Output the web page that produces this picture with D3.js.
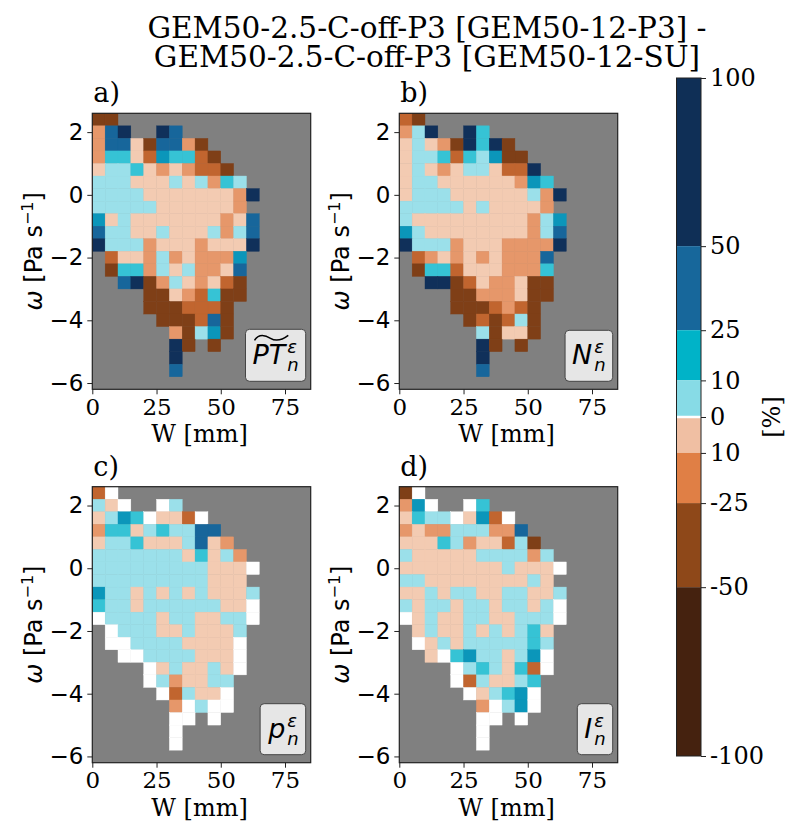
<!DOCTYPE html>
<html>
<head>
<meta charset="utf-8">
<script src="https://cdn.jsdelivr.net/npm/d3@7"></script>
<style>
  body { margin: 0; background: #fff; }
</style>
</head>
<body>
<script>
// ---- data ----
// each panel: 22 rows (omega from 2.6 down to -6.2, 0.4 bins), 17 columns (W 0..85, 5 mm bins)
// codes: N B T C c (positive side) w (zero) p o O D (negative side) . (no data)
const gridPT = [
  "DD...............",
  "oBN..NB..........",
  "oBBpDBBoD........",
  "oCCpOTCCOD.......",
  "pccCpopoOOD......",
  "cccpppcpcoCc.....",
  "ccccpppppppoN....",
  "cccccppppppo.....",
  "TpcpppppppopB....",
  "BccppcpppcocB....",
  "NcccopppopppN....",
  ".OppocopoooT.....",
  ".DCCocpcoopB.....",
  "..BNDocpopOD.....",
  "....DDpoOCDD.....",
  "....DDDOOOD......",
  ".....DDDOBD......",
  "......oDcTD......",
  "......ND.D.......",
  "......N..........",
  "......B..........",
  "................."
];
const gridN = [
  "OD...............",
  "ocN..NC..........",
  "pcpoDNCND........",
  "pccCOCcTDD.......",
  "pcpopccpOON......",
  "pccppppppoTC.....",
  "pcccppppppcoN....",
  "cccccpcppppo.....",
  "cpppppppppocT....",
  "TcppppppppocB....",
  "NcccopppooooN....",
  ".OopopopoooB.....",
  ".DCCOpppoooC.....",
  "..NNDOpoopDD.....",
  "....DDooopDD.....",
  "....DDDOoOD......",
  ".....DODOcD......",
  "......cDppD......",
  "......ND.D.......",
  "......N..........",
  "......B..........",
  "................."
];
const gridP = [
  "Ow...............",
  "cpw..wc..........",
  "pcTCwppOw........",
  "oCCpcCccBB.......",
  "pccCpppcBpo......",
  "cccccccpCpco.....",
  "cccccccccpppw....",
  "cccccccccppp.....",
  "Tccpcpcpcpppc....",
  "Cccpccccccppw....",
  "wccccpccppccw....",
  ".wcccppcpppc.....",
  ".wwccccppppw.....",
  "..wwccccpppw.....",
  "....wpcppcpw.....",
  "....wcoppcc......",
  ".....wOcppw......",
  "......owcww......",
  "......ww.w.......",
  "......w..........",
  "......w..........",
  "................."
];
const gridI = [
  "Dw...............",
  "oTw..wC..........",
  "pCccwpTOw........",
  "opoocccooB.......",
  "pppCcoppOcD......",
  "cpppppccccoc.....",
  "ppppppppcpppw....",
  "ccppppppppcp.....",
  "ppcpccppccppc....",
  "cpccpccpccpcw....",
  "wpcppccppcccw....",
  ".pcppcpcpcCp.....",
  ".wpcpcccccCc.....",
  "..pwCTccpcTw.....",
  "....wcCcpCOw.....",
  "....wOcppcC......",
  ".....wpcCTw......",
  "......owcTw......",
  "......ww.w.......",
  "......w..........",
  "......w..........",
  "................."
];

const classCodes  = ["N", "B", "T", "C", "c", "w", "p", "o", "O", "D"];
const classColors = ["#10305a", "#17669b", "#0b96ba", "#36c3d5", "#9be0ea",
                     "#ffffff", "#f3cbb2", "#e6976a", "#c1652f", "#7f3f17"];

const xTicks = [0, 25, 50, 75];
const yTicks = [-6, -4, -2, 0, 2];

const cbBounds = [100, 50, 25, 10, 0, -10, -25, -50, -100];
const cbLabels = ["100", "50", "25", "10", "0", "10", "-25", "-50", "-100"];
const cbColors = ["#0f2f56", "#17679b", "#00b3c8", "#87dbe6",
                  "#f0bfa3", "#e07f45", "#8e4819", "#45220f"];

const titleLines = ["GEM50-2.5-C-off-P3 [GEM50-12-P3] -", "GEM50-2.5-C-off-P3 [GEM50-12-SU]"];

// bins
const binW = 5, binOm = 0.4;
const wLeft = d3.range(0, 85, binW);
const omTop = d3.range(22).map(i => 2.6 - binOm * i);

// ---- layout ----
const W = 786, H = 827;
const PW = 218.4, PH = 276;
const serif = "DejaVu Serif", sans = "DejaVu Sans";

const panels = [
  { label: "a)", grid: gridPT, sym: "PT", tilde: true, x0: 92.3, y0: 113.3 },
  { label: "b)", grid: gridN, sym: "N", x0: 399.3, y0: 113.3 },
  { label: "c)", grid: gridP, sym: "p", x0: 92.3, y0: 486.7 },
  { label: "d)", grid: gridI, sym: "I", x0: 399.3, y0: 486.7 }
];

const color = d3.scaleOrdinal().domain(classCodes).range(classColors);

const svg = d3.select("body").append("svg")
  .attr("width", W).attr("height", H)
  .style("background", "#fff");

// title
svg.append("g").selectAll("text").data(titleLines).join("text")
  .attr("x", 427).attr("y", (d, i) => 38 + i * 28.5)
  .attr("text-anchor", "middle")
  .attr("font-family", serif).attr("font-size", 29.5)
  .text(d => d);

function drawPanel(p) {
  const x = d3.scaleLinear().domain([0, 85]).range([p.x0, p.x0 + PW]);
  const y = d3.scaleLinear().domain([-6.2, 2.6]).range([p.y0 + PH, p.y0]);
  const g = svg.append("g");

  g.append("rect").attr("x", p.x0).attr("y", p.y0)
    .attr("width", PW).attr("height", PH).attr("fill", "#808080");

  const cells = [];
  p.grid.forEach((row, r) => row.split("").forEach((ch, c) => {
    if (ch !== ".") cells.push({ w: wLeft[c], om: omTop[r], code: ch });
  }));

  g.append("g").selectAll("rect").data(cells).join("rect")
    .attr("x", d => x(d.w))
    .attr("y", d => y(d.om))
    .attr("width", d => x(d.w + binW) - x(d.w))
    .attr("height", d => y(d.om - binOm) - y(d.om))
    .attr("fill", d => color(d.code))
    .attr("stroke", d => color(d.code))
    .attr("stroke-width", 0.4);

  // frame
  g.append("rect").attr("x", p.x0).attr("y", p.y0)
    .attr("width", PW).attr("height", PH)
    .attr("fill", "none").attr("stroke", "#222").attr("stroke-width", 1.2);

  const ax = g.append("g").attr("transform", `translate(0,${p.y0 + PH})`)
    .call(d3.axisBottom(x).tickValues(xTicks).tickSize(5).tickPadding(4));
  ax.select(".domain").remove();
  ax.selectAll("text").attr("font-family", serif).attr("font-size", 23).attr("fill", "#000");
  ax.selectAll("line").attr("stroke", "#222");

  const ay = g.append("g").attr("transform", `translate(${p.x0},0)`)
    .call(d3.axisLeft(y).tickValues(yTicks).tickSize(5).tickPadding(4)
      .tickFormat(d => d < 0 ? "\u2212" + Math.abs(d) : d));
  ay.select(".domain").remove();
  ay.selectAll("text").attr("font-family", sans).attr("font-size", 23).attr("fill", "#000");
  ay.selectAll("line").attr("stroke", "#222");

  // axis labels
  g.append("text").attr("x", p.x0 + PW / 2 - 2).attr("y", p.y0 + PH + 53)
    .attr("text-anchor", "middle").attr("font-family", serif).attr("font-size", 24)
    .text("W [mm]");

  const yl = g.append("text")
    .attr("transform", `translate(${p.x0 - 50},${p.y0 + PH / 2}) rotate(-90)`)
    .attr("text-anchor", "middle").attr("font-family", serif).attr("font-size", 24);
  yl.append("tspan").attr("font-family", sans).attr("font-style", "italic").text("\u03c9");
  yl.append("tspan").attr("font-family", sans).text(" [Pa s");
  yl.append("tspan").attr("font-family", sans).attr("font-size", 16).attr("dy", -9).text("\u22121");
  yl.append("tspan").attr("font-family", sans).attr("dy", 9).text("]");

  // panel letter
  g.append("text").attr("x", p.x0 + 1).attr("y", p.y0 - 11)
    .attr("font-family", serif).attr("font-size", 27).text(p.label);

  // legend box
  const lg = g.append("g");
  const box = lg.append("rect");
  const t = lg.append("text").attr("x", 0).attr("y", 0)
    .attr("font-family", sans).attr("font-style", "italic").attr("font-size", 27)
    .text(p.sym);
  const tw = t.node().getComputedTextLength();
  if (p.tilde) {
    lg.append("path")
      .attr("d", `M2,-24 C${tw * 0.2},-31 ${tw * 0.4},-29 ${tw * 0.55},-26 S${tw * 0.85},-23 ${tw + 3},-29`)
      .attr("fill", "none").attr("stroke", "#000").attr("stroke-width", 1.5);
  }
  lg.append("text").attr("x", tw + 2).attr("y", -11)
    .attr("font-family", sans).attr("font-style", "italic").attr("font-size", 18).text("\u03b5");
  lg.append("text").attr("x", tw + 2).attr("y", 7)
    .attr("font-family", sans).attr("font-style", "italic").attr("font-size", 18).text("n");
  const bb = lg.node().getBBox();
  const pad = 7;
  box.attr("x", bb.x - pad).attr("y", bb.y - pad + 1)
    .attr("width", bb.width + 2 * pad).attr("height", bb.height + 2 * pad - 2)
    .attr("rx", 4).attr("fill", "#e6e6e6").attr("stroke", "#444").attr("stroke-width", 1);
  const bw = bb.width + 2 * pad, bh = bb.height + 2 * pad - 2;
  const tx = p.x0 + PW - 5 - bw - (bb.x - pad);
  const ty = p.y0 + PH - 8 - bh - (bb.y - pad + 1);
  lg.attr("transform", `translate(${tx},${ty})`);
}

panels.forEach(drawPanel);

// colorbar
const cbX = 676.5, cbW = 24.5, cbTop = 78, cbBot = 756;
const cbFrac = [0, 0.248, 0.372, 0.446, 0.5, 0.553, 0.627, 0.751, 1];
const cbY = d3.scaleLinear().domain(cbBounds).range(cbFrac.map(f => cbTop + f * (cbBot - cbTop)));

const cb = svg.append("g");
cb.selectAll("rect").data(cbColors).join("rect")
  .attr("x", cbX).attr("width", cbW)
  .attr("y", (d, i) => cbY(cbBounds[i]))
  .attr("height", (d, i) => cbY(cbBounds[i + 1]) - cbY(cbBounds[i]))
  .attr("fill", d => d);
cb.append("line").attr("x1", cbX).attr("x2", cbX + cbW)
  .attr("y1", cbY(0)).attr("y2", cbY(0)).attr("stroke", "#fff").attr("stroke-width", 2.5);
cb.append("rect").attr("x", cbX).attr("y", cbTop).attr("width", cbW).attr("height", cbBot - cbTop)
  .attr("fill", "none").attr("stroke", "#222").attr("stroke-width", 1);

const cbAxis = cb.append("g").attr("transform", `translate(${cbX + cbW},0)`)
  .call(d3.axisRight(cbY).tickValues(cbBounds).tickSize(5).tickPadding(4)
    .tickFormat((d, i) => cbLabels[i]));
cbAxis.select(".domain").remove();
cbAxis.selectAll("text").attr("font-family", serif).attr("font-size", 24).attr("fill", "#000");
cbAxis.selectAll("line").attr("stroke", "#222");

svg.append("text")
  .attr("transform", `translate(772,${cbY(0)}) rotate(-90)`)
  .attr("text-anchor", "middle").attr("dy", "0.35em")
  .attr("font-family", serif).attr("font-size", 24).text("[%]");
</script>
</body>
</html>
